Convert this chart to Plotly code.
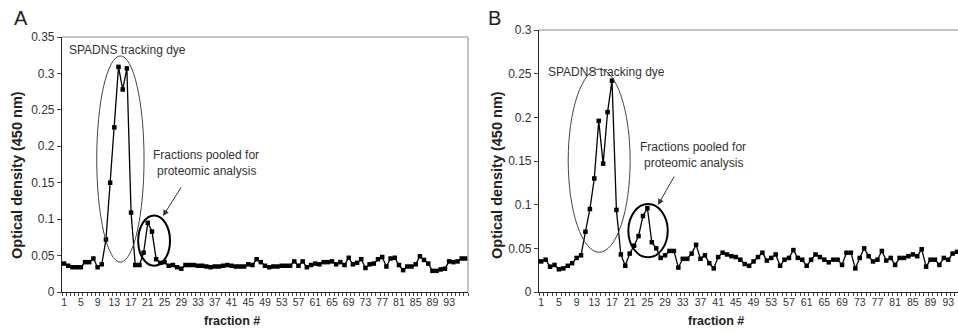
import plotly.graph_objects as go

W, H = 958, 333

fractions_a = list(range(1, 98))
od_a = [0.039, 0.036, 0.034, 0.034, 0.034, 0.041, 0.041, 0.046, 0.034, 0.038,
        0.072, 0.150, 0.226, 0.309, 0.278, 0.307, 0.109, 0.037, 0.037, 0.054,
        0.095, 0.083, 0.045, 0.040, 0.041, 0.036, 0.037, 0.034, 0.032, 0.037,
        0.037, 0.037, 0.036, 0.036, 0.035, 0.034, 0.035, 0.035, 0.036, 0.037,
        0.036, 0.035, 0.035, 0.035, 0.038, 0.037, 0.045, 0.041, 0.036, 0.034,
        0.035, 0.035, 0.036, 0.036, 0.036, 0.042, 0.036, 0.042, 0.034, 0.037,
        0.039, 0.038, 0.041, 0.041, 0.042, 0.038, 0.041, 0.037, 0.047, 0.038,
        0.040, 0.045, 0.033, 0.038, 0.039, 0.045, 0.048, 0.035, 0.046, 0.047,
        0.037, 0.030, 0.035, 0.035, 0.038, 0.049, 0.044, 0.039, 0.029, 0.029,
        0.031, 0.032, 0.042, 0.041, 0.042, 0.046, 0.046]

fractions_b = list(range(1, 97))
od_b = [0.035, 0.037, 0.029, 0.031, 0.026, 0.027, 0.030, 0.033, 0.039, 0.042,
        0.069, 0.095, 0.130, 0.196, 0.147, 0.206, 0.242, 0.094, 0.043, 0.030,
        0.044, 0.053, 0.064, 0.087, 0.096, 0.057, 0.050, 0.039, 0.042, 0.047,
        0.047, 0.028, 0.038, 0.038, 0.044, 0.054, 0.038, 0.042, 0.033, 0.027,
        0.040, 0.045, 0.043, 0.041, 0.040, 0.037, 0.032, 0.030, 0.035, 0.040,
        0.045, 0.036, 0.039, 0.043, 0.030, 0.037, 0.039, 0.048, 0.039, 0.037,
        0.030, 0.037, 0.043, 0.040, 0.037, 0.034, 0.037, 0.037, 0.031, 0.045,
        0.045, 0.027, 0.039, 0.050, 0.041, 0.035, 0.037, 0.047, 0.036, 0.039,
        0.031, 0.039, 0.039, 0.041, 0.043, 0.041, 0.049, 0.029, 0.037, 0.037,
        0.031, 0.039, 0.037, 0.044, 0.046, 0.047]

tick_vals = list(range(1, 94, 4))
tick_text = [str(v) for v in tick_vals]
yticks_a = [0, 0.05, 0.1, 0.15, 0.2, 0.25, 0.3, 0.35]
yticks_b = [0, 0.05, 0.1, 0.15, 0.2, 0.25, 0.3]

FONT = "Liberation Sans, Arial, sans-serif"
TXT = "#333333"

def px_x(p):
    return p / W

def px_y(p):
    return 1 - p / H

fig = go.Figure()
for xs, ys, xa, ya in [(fractions_a, od_a, "x", "y"), (fractions_b, od_b, "x2", "y2")]:
    fig.add_trace(go.Scatter(
        x=xs, y=ys, xaxis=xa, yaxis=ya, mode="lines+markers",
        line=dict(color="black", width=1.3),
        marker=dict(symbol="square", size=4.5, color="black"),
        showlegend=False, hoverinfo="skip"))

def xaxis_cfg(domain, rng):
    return dict(domain=domain, range=rng, tickmode="array", tickvals=tick_vals,
                ticktext=tick_text, ticks="", showgrid=False, zeroline=False,
                showline=True, linecolor="#222222", linewidth=1.2, automargin=False,
                tickfont=dict(family=FONT, size=10.5, color=TXT),
                minor=dict(ticks="outside", tick0=0.5, dtick=1, ticklen=3,
                           tickcolor="#444444", tickwidth=1),
                fixedrange=True)

def yaxis_cfg(domain, rng, vals, anchor):
    return dict(domain=domain, range=rng, tickmode="array", tickvals=vals,
                ticktext=[("%g" % v) for v in vals], ticks="outside", ticklen=4,
                tickcolor="#444444", showgrid=False, zeroline=False, automargin=False,
                showline=True, linecolor="#222222", linewidth=1.2,
                tickfont=dict(family=FONT, size=12, color=TXT), anchor=anchor,
                fixedrange=True)

fig.update_layout(
    width=W, height=H, autosize=False, margin=dict(l=0, r=0, t=0, b=0, pad=0),
    paper_bgcolor="white", plot_bgcolor="white",
    xaxis=dict(**xaxis_cfg([px_x(62), px_x(468)], [0.5, 97.5]), anchor="y"),
    yaxis=yaxis_cfg([px_y(292), px_y(37)], [0, 0.35], yticks_a, "x"),
    xaxis2=dict(**xaxis_cfg([px_x(539), 1.0], [0.5, 0.5 + 419 / 4.424]), anchor="y2"),
    yaxis2=yaxis_cfg([px_y(292), px_y(30)], [0, 0.3], yticks_b, "x2"),
)

shapes = []
shapes.append(dict(type="line", xref="x domain", yref="y domain", x0=0, x1=1, y0=1, y1=1,
                   line=dict(color="#b0b0b0", width=1.5)))
shapes.append(dict(type="line", xref="x domain", yref="y domain", x0=1, x1=1, y0=0, y1=1,
                   line=dict(color="#b0b0b0", width=1.5)))
shapes.append(dict(type="line", xref="x2 domain", yref="y2 domain", x0=0, x1=1, y0=1, y1=1,
                   line=dict(color="#b0b0b0", width=1.5)))
shapes.append(dict(type="circle", xref="x", yref="y", x0=8.8, x1=20.1, y0=0.041, y1=0.324,
                   line=dict(color="#444444", width=1)))
shapes.append(dict(type="circle", xref="x", yref="y", x0=18.7, x1=26.3, y0=0.036, y1=0.105,
                   line=dict(color="black", width=2)))
shapes.append(dict(type="circle", xref="x2", yref="y2", x0=7.1, x1=21.1, y0=0.0455, y1=0.2553,
                   line=dict(color="#444444", width=1)))
shapes.append(dict(type="circle", xref="x2", yref="y2", x0=20.7, x1=29.6, y0=0.0397, y1=0.1008,
                   line=dict(color="black", width=2)))
fig.update_layout(shapes=shapes)

ann = []
def paper_text(x, y, text, size, angle=0, color=TXT, xanchor="center"):
    ann.append(dict(xref="paper", yref="paper", x=px_x(x), y=px_y(y), text=text,
                    showarrow=False, textangle=angle, xanchor=xanchor, yanchor="middle",
                    font=dict(family=FONT, size=size, color=color)))

paper_text(12, 18, "A", 20, color="#222222", xanchor="left")
paper_text(486, 18, "B", 20, color="#222222", xanchor="left")
paper_text(17, 175, "<b>Optical density (450 nm)</b>", 14.5, angle=-90, color="#222222")
paper_text(497, 175, "<b>Optical density (450 nm)</b>", 14.5, angle=-90, color="#222222")
paper_text(232, 321, "<b>fraction #</b>", 12.5, color="#222222")
paper_text(716, 321, "<b>fraction #</b>", 12.5, color="#222222")
paper_text(67, 50, "SPADNS tracking dye", 12, xanchor="left")
paper_text(546, 72, "SPADNS tracking dye", 12, xanchor="left")
paper_text(206, 155, "Fractions pooled for", 12)
paper_text(206, 171, "proteomic analysis", 12)
paper_text(693, 147, "Fractions pooled for", 12)
paper_text(693, 163, "proteomic analysis", 12)

for (hx, hy, tx, ty) in [(163, 216, 182, 186), (658, 205, 675, 175)]:
    ann.append(dict(xref="paper", yref="paper", x=px_x(hx), y=px_y(hy), ax=tx - hx, ay=ty - hy,
                    axref="pixel", ayref="pixel", text="", showarrow=True, arrowhead=2,
                    arrowsize=1.2, arrowwidth=1, arrowcolor="#333333"))

fig.update_layout(annotations=ann)
fig.write_html("out.html")
